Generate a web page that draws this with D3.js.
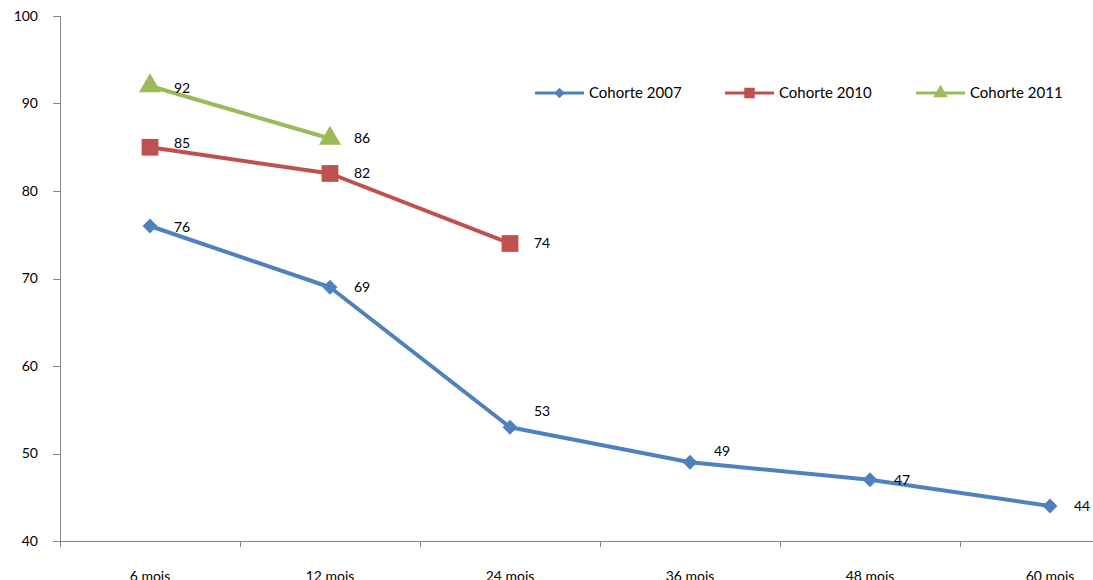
<!DOCTYPE html>
<html>
<head>
<meta charset="utf-8">
<script src="https://cdn.jsdelivr.net/npm/d3@7"></script>
<style>
  body { margin: 0; background: #fff; }
  text { font-family: Lato, "Open Sans", sans-serif; fill: #000; }
</style>
</head>
<body>
<div id="chart"></div>
<script>
// data
var categories = ["6 mois", "12 mois", "24 mois", "36 mois", "48 mois", "60 mois"]
var cohorte2007 = [76, 69, 53, 49, 47, 44]
var cohorte2010 = [85, 82, 74]
var cohorte2011 = [92, 86]
var yTicks = [40, 50, 60, 70, 80, 90, 100]

var series = [
  { name: "Cohorte 2007", values: cohorte2007, color: "#4F81BD", symbol: "diamond" },
  { name: "Cohorte 2010", values: cohorte2010, color: "#C0504D", symbol: "square" },
  { name: "Cohorte 2011", values: cohorte2011, color: "#9BBB59", symbol: "triangle" }
]

var width = 1093
var height = 580

var svg = d3.select("#chart")
  .append("svg")
    .attr("width", width)
    .attr("height", height)

// scales
var x = d3.scaleBand()
  .domain(categories)
  .range([60, 1140])

var y = d3.scaleLinear()
  .domain([40, 100])
  .range([541, 16])

var axisColor = "#868686"

// y axis
svg.append("line")
  .attr("x1", 60.5).attr("x2", 60.5)
  .attr("y1", y(100)).attr("y2", y(40))
  .attr("stroke", axisColor)

svg.selectAll("ytick")
  .data(yTicks)
  .enter()
  .append("line")
    .attr("x1", 53).attr("x2", 60.5)
    .attr("y1", function(d){ return Math.round(y(d)) + 0.5 })
    .attr("y2", function(d){ return Math.round(y(d)) + 0.5 })
    .attr("stroke", axisColor)

svg.selectAll("ylabel")
  .data(yTicks)
  .enter()
  .append("text")
    .attr("x", 38)
    .attr("y", function(d){ return y(d) })
    .attr("text-anchor", "end")
    .attr("dy", "0.35em")
    .style("font-size", "14px")
    .text(function(d){ return d })

// x axis
svg.append("line")
  .attr("x1", 60).attr("x2", 1140)
  .attr("y1", 541.5).attr("y2", 541.5)
  .attr("stroke", axisColor)

svg.selectAll("xtick")
  .data(categories.concat(["end"]))
  .enter()
  .append("line")
    .attr("x1", function(d, i){ return Math.round(60 + i * x.bandwidth()) + 0.5 })
    .attr("x2", function(d, i){ return Math.round(60 + i * x.bandwidth()) + 0.5 })
    .attr("y1", 541.5).attr("y2", 547)
    .attr("stroke", axisColor)

// the reference is cropped through these labels
svg.selectAll("xlabel")
  .data(categories)
  .enter()
  .append("text")
    .attr("x", function(d){ return x(d) + x.bandwidth() / 2 })
    .attr("y", 581)
    .attr("text-anchor", "middle")
    .style("font-size", "14px")
    .text(function(d){ return d })

// lines
function cx(i) { return x(categories[i]) + x.bandwidth() / 2 }

var line = d3.line()
  .x(function(d, i){ return cx(i) })
  .y(function(d){ return y(d) })

// Excel diamond = square turned 45deg
var symbols = { diamond: d3.symbolSquare, square: d3.symbolSquare, triangle: d3.symbolTriangle }
var rotate = { diamond: 45, square: 0, triangle: 0 }
var symbolSize = { diamond: 110, square: 280, triangle: 210 }
var legendSize = { diamond: 55, square: 110, triangle: 90 }

// label nudges (Excel moved a few labels up to clear the line)
var labelShift = { "Cohorte 2007": [1, 0, -16, -11, 0, 0], "Cohorte 2010": [-4, 0, 0], "Cohorte 2011": [2, 0] }

series.forEach(function(s){
  svg.append("path")
    .datum(s.values)
    .attr("d", line)
    .attr("fill", "none")
    .attr("stroke", s.color)
    .attr("stroke-width", 4)
    .attr("stroke-linejoin", "round")

  svg.selectAll("marker-" + s.symbol)
    .data(s.values)
    .enter()
    .append("path")
      .attr("d", d3.symbol().type(symbols[s.symbol]).size(symbolSize[s.symbol]))
      .attr("transform", function(d, i){ return "translate(" + cx(i) + "," + y(d) + ") rotate(" + rotate[s.symbol] + ")" })
      .attr("fill", s.color)

  svg.selectAll("label-" + s.symbol)
    .data(s.values)
    .enter()
    .append("text")
      .attr("x", function(d, i){ return cx(i) + 24 })
      .attr("y", function(d, i){ return y(d) + labelShift[s.name][i] })
      .attr("dy", "0.35em")
      .style("font-size", "14px")
      .text(function(d){ return d })
})

// legend
var legendX = [535, 725, 916]
var legendY = 93

series.forEach(function(s, i){
  var g = svg.append("g").attr("transform", "translate(" + legendX[i] + "," + legendY + ")")
  g.append("line")
    .attr("x1", 0).attr("x2", 49)
    .attr("y1", 0).attr("y2", 0)
    .attr("stroke", s.color)
    .attr("stroke-width", 3)
  g.append("path")
    .attr("d", d3.symbol().type(symbols[s.symbol]).size(legendSize[s.symbol]))
    .attr("transform", "translate(24.5,0) rotate(" + rotate[s.symbol] + ")")
    .attr("fill", s.color)
  g.append("text")
    .attr("x", 54)
    .attr("y", 0)
    .attr("dy", "0.35em")
    .style("font-size", "15px")
    .text(s.name)
})
</script>
</body>
</html>
